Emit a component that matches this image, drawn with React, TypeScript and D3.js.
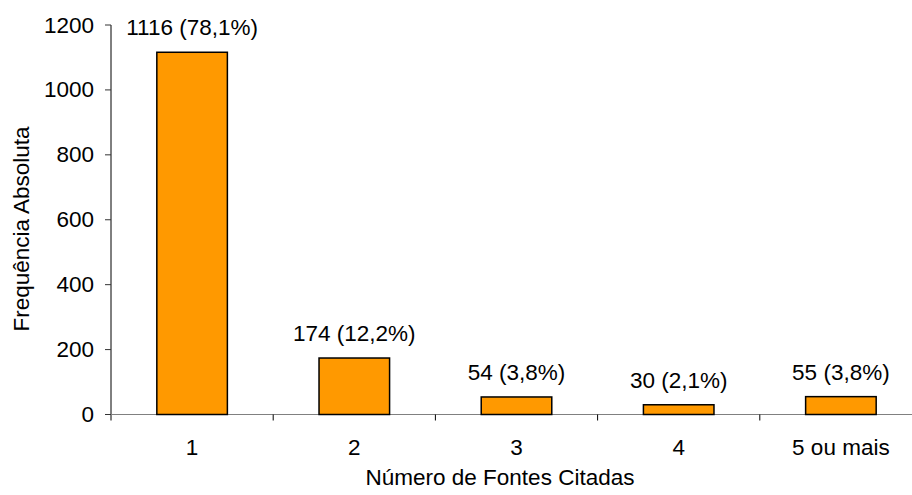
import React from "react";
import * as d3 from "d3";

const categories = ["1", "2", "3", "4", "5 ou mais"];
const counts = [1116, 174, 54, 30, 55];
const percents = ["78,1%", "12,2%", "3,8%", "2,1%", "3,8%"];
const yTicks = [0, 200, 400, 600, 800, 1000, 1200];

const W = 912;
const H = 495;
const FONT = "'Liberation Sans', Arial, sans-serif";
const FS = 22.5;

export default function App() {
  const x0 = 111;
  const x1 = 922;
  const yBase = 414.5;
  const yTop = 25;

  const x = d3.scaleBand<string>().domain(categories).range([x0, x1]).paddingInner(0).paddingOuter(0);
  const y = d3.scaleLinear().domain([0, 1200]).range([yBase, yTop]);
  const bw = x.bandwidth() * 0.435;

  return (
    <svg width={W} height={H} style={{ position: "absolute", left: 0, top: 0, background: "#fff" }}>
      {/* y axis */}
      <line x1={x0} x2={x0} y1={yTop} y2={yBase + 6} stroke="#000" strokeWidth={1} />
      {yTicks.map((t) => (
        <g key={t}>
          <line x1={x0 - 6} x2={x0} y1={y(t)} y2={y(t)} stroke="#333" strokeWidth={1} />
          <text x={94} y={y(t) + 7.5} textAnchor="end" fontFamily={FONT} fontSize={FS} fill="#000">
            {t}
          </text>
        </g>
      ))}
      {/* x axis */}
      <line x1={x0} x2={x1} y1={yBase} y2={yBase} stroke="#808080" strokeWidth={1} />
      {categories.map((c, i) =>
        i > 0 ? (
          <line key={c} x1={x(c)!} x2={x(c)!} y1={yBase} y2={yBase + 6} stroke="#000" strokeWidth={1} />
        ) : null
      )}
      {/* bars */}
      {categories.map((c, i) => {
        const cx = x(c)! + x.bandwidth() / 2;
        return (
          <g key={c}>
            <rect
              x={cx - bw / 2}
              y={y(counts[i])}
              width={bw}
              height={yBase - y(counts[i])}
              fill="#FF9900"
              stroke="#000"
              strokeWidth={1.5}
            />
            <text x={cx} y={y(counts[i]) - 17} textAnchor="middle" fontFamily={FONT} fontSize={FS} fill="#000">
              {`${counts[i]} (${percents[i]})`}
            </text>
            <text x={cx} y={455} textAnchor="middle" fontFamily={FONT} fontSize={FS} fill="#000">
              {c}
            </text>
          </g>
        );
      })}
      {/* axis titles */}
      <text x={500} y={485} textAnchor="middle" fontFamily={FONT} fontSize={FS} fill="#000">
        Número de Fontes Citadas
      </text>
      <text
        transform={`translate(29,229) rotate(-90)`}
        textAnchor="middle"
        fontFamily={FONT}
        fontSize={FS}
        fill="#000"
      >
        Frequência Absoluta
      </text>
    </svg>
  );
}
